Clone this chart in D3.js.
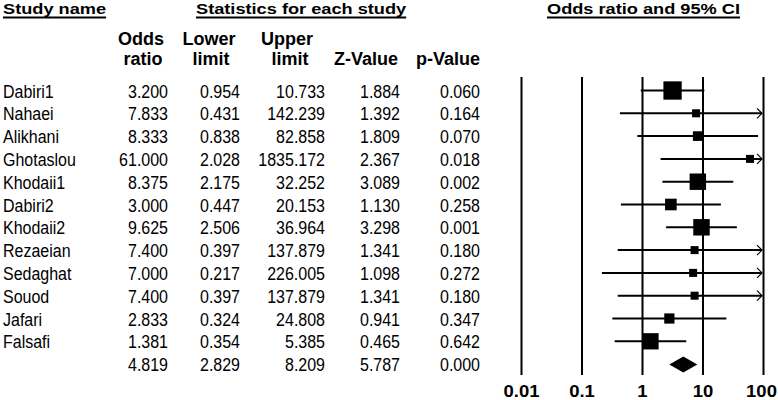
<!DOCTYPE html>
<html>
<head>
<meta charset="utf-8">
<script src="https://cdn.jsdelivr.net/npm/d3@7"></script>
<style>
  html, body { margin: 0; padding: 0; background: #fff; }
  svg { display: block; font-family: "Liberation Sans", Arial, sans-serif; }
</style>
</head>
<body>
<svg id="chart" width="778" height="400"></svg>
<script>
// ---------------- DATA ----------------
const studies    = ["Dabiri1", "Nahaei", "Alikhani", "Ghotaslou", "Khodaii1", "Dabiri2", "Khodaii2", "Rezaeian", "Sedaghat", "Souod", "Jafari", "Falsafi"];
const oddsRatio  = [3.200, 7.833, 8.333, 61.000, 8.375, 3.000, 9.625, 7.400, 7.000, 7.400, 2.833, 1.381];
const lowerLimit = [0.954, 0.431, 0.838, 2.028, 2.175, 0.447, 2.506, 0.397, 0.217, 0.397, 0.324, 0.354];
const upperLimit = [10.733, 142.239, 82.858, 1835.172, 32.252, 20.153, 36.964, 137.879, 226.005, 137.879, 24.808, 5.385];
const zValue     = [1.884, 1.392, 1.809, 2.367, 3.089, 1.130, 3.298, 1.341, 1.098, 1.341, 0.941, 0.465];
const pValue     = [0.060, 0.164, 0.070, 0.018, 0.002, 0.258, 0.001, 0.180, 0.272, 0.180, 0.347, 0.642];
// pooled (summary) row: odds ratio, lower, upper, Z, p
const summaryStats = [4.819, 2.829, 8.209, 5.787, 0.000];
const tickValues = [0.01, 0.1, 1, 10, 100];
const tickLabels = ["0.01", "0.1", "1", "10", "100"];

// ---------------- LAYOUT ----------------
const svg = d3.select("#chart");
const fmt = d3.format(".3f");
const x = d3.scaleLog().domain([0.01, 100]).range([521, 763]);
const nRows = studies.length + 1;
const y = d3.scaleLinear().domain([0, nRows - 1]).range([90.5, 90.5 + 22.8 * (nRows - 1)]);
const plotTop = 77, plotBottom = 375;

// Titles
const titles = [
  {t: "Study name", x: 3},
  {t: "Statistics for each study", x: 196},
  {t: "Odds ratio and 95% CI", x: 547}
];
titles.forEach(d => {
  const tx = svg.append("text")
    .attr("transform", `translate(${d.x},14) scale(1,0.85)`)
    .attr("font-size", 18.2).attr("font-weight", "bold")
    .attr("fill", "#000")
    .text(d.t);
  const w = tx.node().getComputedTextLength();
  svg.append("line").attr("x1", d.x).attr("x2", d.x + w)
    .attr("y1", 17.5).attr("y2", 17.5)
    .attr("stroke", "#000").attr("stroke-width", 2);
});

// Column headers
const colHeaders = [
  {t: "Odds", x: 141, y: 45}, {t: "ratio", x: 143, y: 65},
  {t: "Lower", x: 209, y: 45}, {t: "limit", x: 211, y: 65},
  {t: "Upper", x: 287, y: 45}, {t: "limit", x: 290, y: 65},
  {t: "Z-Value", x: 366, y: 65}, {t: "p-Value", x: 448, y: 65}
];
svg.selectAll("text.colh").data(colHeaders).join("text")
  .attr("class", "colh")
  .attr("transform", d => `translate(${d.x},${d.y})`)
  .attr("font-size", 18).attr("font-weight", "bold")
  .attr("text-anchor", "middle").attr("fill", "#000")
  .text(d => d.t);

// Table text
const colRight = [168, 240, 325, 400, 480];
function rowText(vals, i, name) {
  const base = y(i) + 7;
  if (name) {
    svg.append("text")
      .attr("transform", `translate(3,${base}) scale(1,1.16)`)
      .attr("font-size", 16).attr("fill", "#000").text(name);
  }
  vals.forEach((v, j) => {
    svg.append("text")
      .attr("transform", `translate(${colRight[j]},${base}) scale(1,1.16)`)
      .attr("font-size", 16).attr("text-anchor", "end").attr("fill", "#000")
      .text(fmt(v));
  });
}
studies.forEach((s, i) => rowText([oddsRatio[i], lowerLimit[i], upperLimit[i], zValue[i], pValue[i]], i, s));
rowText(summaryStats, studies.length, null);

// Axis with full-height vertical reference lines
const axis = d3.axisBottom(x).tickValues(tickValues)
  .tickFormat((d, i) => tickLabels[i])
  .tickSize(-(plotBottom - plotTop)).tickPadding(0);
const gAxis = svg.append("g").attr("transform", `translate(0,${plotBottom})`).call(axis);
gAxis.select(".domain").remove();
gAxis.selectAll(".tick line").attr("stroke", "#000").attr("stroke-width", 2);
gAxis.selectAll(".tick text")
  .attr("font-family", "Liberation Sans, Arial, sans-serif")
  .attr("font-size", 18.5).attr("font-weight", "bold").attr("fill", "#000")
  .attr("dy", 0).attr("y", 22 / 0.88)
  .attr("dx", (d, i) => i === tickValues.length - 1 ? -2 : 0)
  .attr("transform", "scale(1,0.88)");

// Study weights from CI width (inverse variance of log OR)
const weights = studies.map((s, i) => {
  const se = (Math.log(upperLimit[i]) - Math.log(lowerLimit[i])) / (2 * 1.96);
  return 1 / (se * se);
});
const side = w => Math.max(8, 11.3 * Math.sqrt(w));

const xMin = x.range()[0], xMax = x.range()[1];
const gRows = svg.append("g");
studies.forEach((s, i) => {
  const cy = y(i);
  const lo = Math.max(xMin, x(Math.max(lowerLimit[i], 0.01)));
  const hi = Math.min(xMax - 1, x(Math.min(upperLimit[i], 100)));
  gRows.append("line").attr("x1", lo).attr("x2", hi).attr("y1", cy).attr("y2", cy)
    .attr("stroke", "#000").attr("stroke-width", 2);
  if (upperLimit[i] > 100) {
    gRows.append("path")
      .attr("d", `M${xMax - 6},${cy - 5}L${xMax - 1},${cy}L${xMax - 6},${cy + 5}`)
      .attr("fill", "none").attr("stroke", "#000").attr("stroke-width", 1.2);
  }
  const sz = side(weights[i]);
  gRows.append("rect")
    .attr("x", x(oddsRatio[i]) - sz / 2).attr("y", cy - sz / 2)
    .attr("width", sz).attr("height", sz).attr("fill", "#000");
});

// Summary diamond
const sy = y(studies.length) + 0.5;
gRows.append("path")
  .attr("d", `M${x(summaryStats[1])},${sy}L${x(summaryStats[0])},${sy - 8}L${x(summaryStats[2])},${sy}L${x(summaryStats[0])},${sy + 8}Z`)
  .attr("fill", "#000");
</script>
</body>
</html>
